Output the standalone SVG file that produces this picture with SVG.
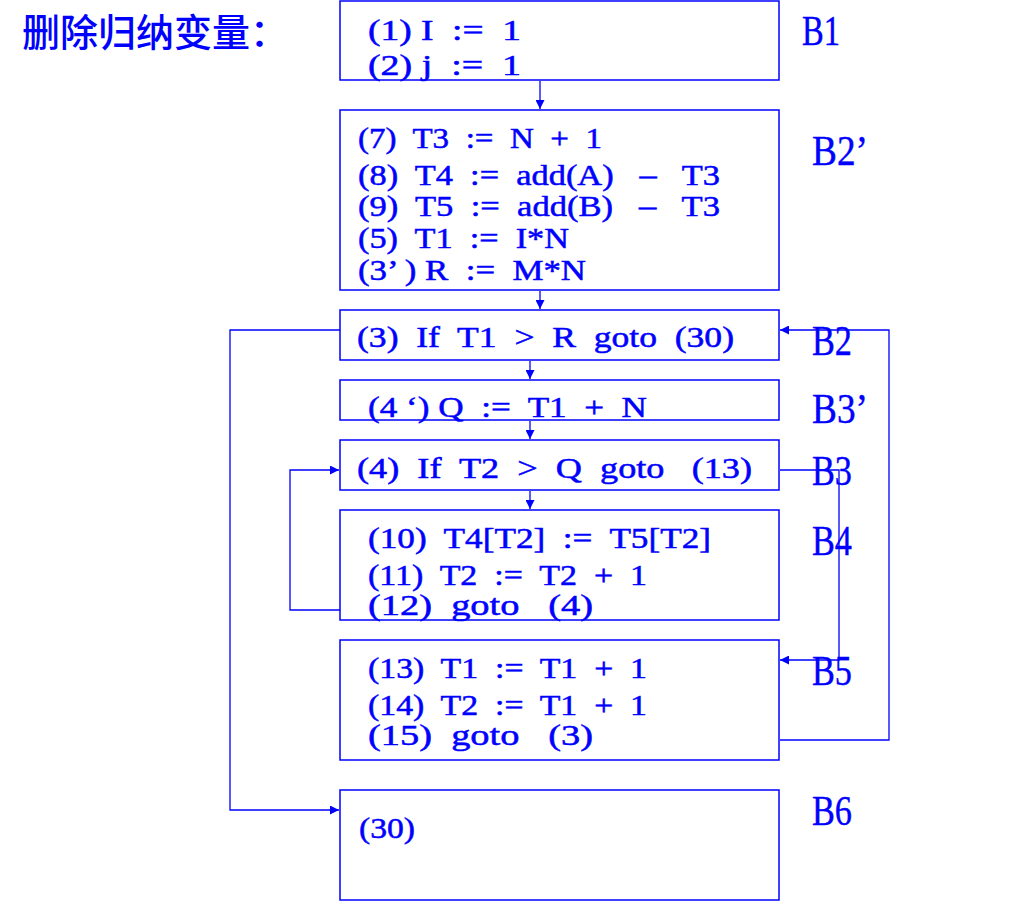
<svg xmlns="http://www.w3.org/2000/svg" width="1020" height="902" viewBox="0 0 1020 902" xml:space="preserve">
<style>
.box{fill:#fff;stroke:#0000ff;stroke-width:1.5}
.code{font-family:"Liberation Serif","Noto Sans CJK SC",serif;font-size:29px;fill:#0000ff;stroke:#0000ff;stroke-width:0.5;white-space:pre}
.lbl{font-family:"Liberation Serif",serif;font-size:42px;fill:#0000ff;stroke:#0000ff;stroke-width:0.4}
.title{font-family:"Noto Sans CJK SC",sans-serif;font-size:38px;fill:#0000ff;font-weight:500}
.conn{fill:none;stroke:#0000ff;stroke-width:1.3}
</style>
<defs>
<marker id="ah" viewBox="0 0 10 10" refX="10" refY="5" markerWidth="9" markerHeight="9" markerUnits="userSpaceOnUse" orient="auto">
<path d="M0,0 L10,5 L0,10 z" fill="#0000ff"/>
</marker>
</defs>
<rect width="1020" height="902" fill="#fff"/>
<text class="title" x="22" y="46">删除归纳变量：</text>

<g id="connectors">
<line class="conn" x1="540" y1="81" x2="540" y2="109" marker-end="url(#ah)"/>
<line class="conn" x1="540" y1="291" x2="540" y2="309" marker-end="url(#ah)"/>
<line class="conn" x1="530" y1="361" x2="530" y2="379" marker-end="url(#ah)"/>
<line class="conn" x1="530" y1="421" x2="530" y2="439" marker-end="url(#ah)"/>
<line class="conn" x1="530" y1="491" x2="530" y2="509" marker-end="url(#ah)"/>
<polyline class="conn" points="340,330 230,330 230,810 339,810" marker-end="url(#ah)"/>
<polyline class="conn" points="340,610 290,610 290,470 339,470" marker-end="url(#ah)"/>
<polyline class="conn" points="780,470 839,470 839,660 780,660" marker-end="url(#ah)"/>
<polyline class="conn" points="780,740 889,740 889,330 780,330" marker-end="url(#ah)"/>
</g>

<g id="B1">
<rect class="box" x="340" y="1" width="439" height="79"/>
<text class="code" x="368" y="40" textLength="153" lengthAdjust="spacingAndGlyphs">(1) I  :=  1</text>
<text class="code" x="368" y="75" textLength="153" lengthAdjust="spacingAndGlyphs">(2) j  :=  1</text>
<text class="lbl" x="802" y="45" textLength="38" lengthAdjust="spacingAndGlyphs">B1</text>
</g>

<g id="B2p">
<rect class="box" x="340" y="110" width="439" height="180"/>
<text class="code" x="358" y="148" textLength="244" lengthAdjust="spacingAndGlyphs">(7)  T3  :=  N  +  1</text>
<text class="code" x="358" y="185" textLength="362" lengthAdjust="spacingAndGlyphs">(8)  T4  :=  add(A)   –   T3</text>
<text class="code" x="358" y="216" textLength="362" lengthAdjust="spacingAndGlyphs">(9)  T5  :=  add(B)   –   T3</text>
<text class="code" x="358" y="248" textLength="211" lengthAdjust="spacingAndGlyphs">(5)  T1  :=  I*N</text>
<text class="code" x="358" y="280" textLength="228" lengthAdjust="spacingAndGlyphs">(3’ ) R  :=  M*N</text>
<text class="lbl" x="812" y="165" textLength="56" lengthAdjust="spacingAndGlyphs">B2’</text>
</g>

<g id="B2">
<rect class="box" x="340" y="310" width="439" height="50"/>
<text class="code" x="357" y="347" textLength="377" lengthAdjust="spacingAndGlyphs">(3)  If  T1  &gt;  R  goto  (30)</text>
<text class="lbl" x="812" y="355" textLength="40" lengthAdjust="spacingAndGlyphs">B2</text>
</g>

<g id="B3p">
<rect class="box" x="340" y="380" width="439" height="40"/>
<text class="code" x="368" y="417" textLength="279" lengthAdjust="spacingAndGlyphs">(4 ‘) Q  :=  T1  +  N</text>
<text class="lbl" x="812" y="423" textLength="56" lengthAdjust="spacingAndGlyphs">B3’</text>
</g>

<g id="B3">
<rect class="box" x="340" y="440" width="439" height="50"/>
<text class="code" x="357" y="478" textLength="395" lengthAdjust="spacingAndGlyphs">(4)  If  T2  &gt;  Q  goto   (13)</text>
<text class="lbl" x="812" y="485" textLength="40" lengthAdjust="spacingAndGlyphs">B3</text>
</g>

<g id="B4">
<rect class="box" x="340" y="510" width="439" height="110"/>
<text class="code" x="368" y="548" textLength="343" lengthAdjust="spacingAndGlyphs">(10)  T4[T2]  :=  T5[T2]</text>
<text class="code" x="368" y="585" textLength="279" lengthAdjust="spacingAndGlyphs">(11)  T2  :=  T2  +  1</text>
<text class="code" x="368" y="615" textLength="225" lengthAdjust="spacingAndGlyphs">(12)  goto   (4)</text>
<text class="lbl" x="812" y="555" textLength="40" lengthAdjust="spacingAndGlyphs">B4</text>
</g>

<g id="B5">
<rect class="box" x="340" y="640" width="439" height="120"/>
<text class="code" x="368" y="678" textLength="279" lengthAdjust="spacingAndGlyphs">(13)  T1  :=  T1  +  1</text>
<text class="code" x="368" y="715" textLength="279" lengthAdjust="spacingAndGlyphs">(14)  T2  :=  T1  +  1</text>
<text class="code" x="368" y="745" textLength="225" lengthAdjust="spacingAndGlyphs">(15)  goto   (3)</text>
<text class="lbl" x="812" y="685" textLength="40" lengthAdjust="spacingAndGlyphs">B5</text>
</g>

<g id="B6">
<rect class="box" x="340" y="790" width="439" height="110"/>
<text class="code" x="359" y="838" textLength="56" lengthAdjust="spacingAndGlyphs">(30)</text>
<text class="lbl" x="812" y="825" textLength="40" lengthAdjust="spacingAndGlyphs">B6</text>
</g>
</svg>
